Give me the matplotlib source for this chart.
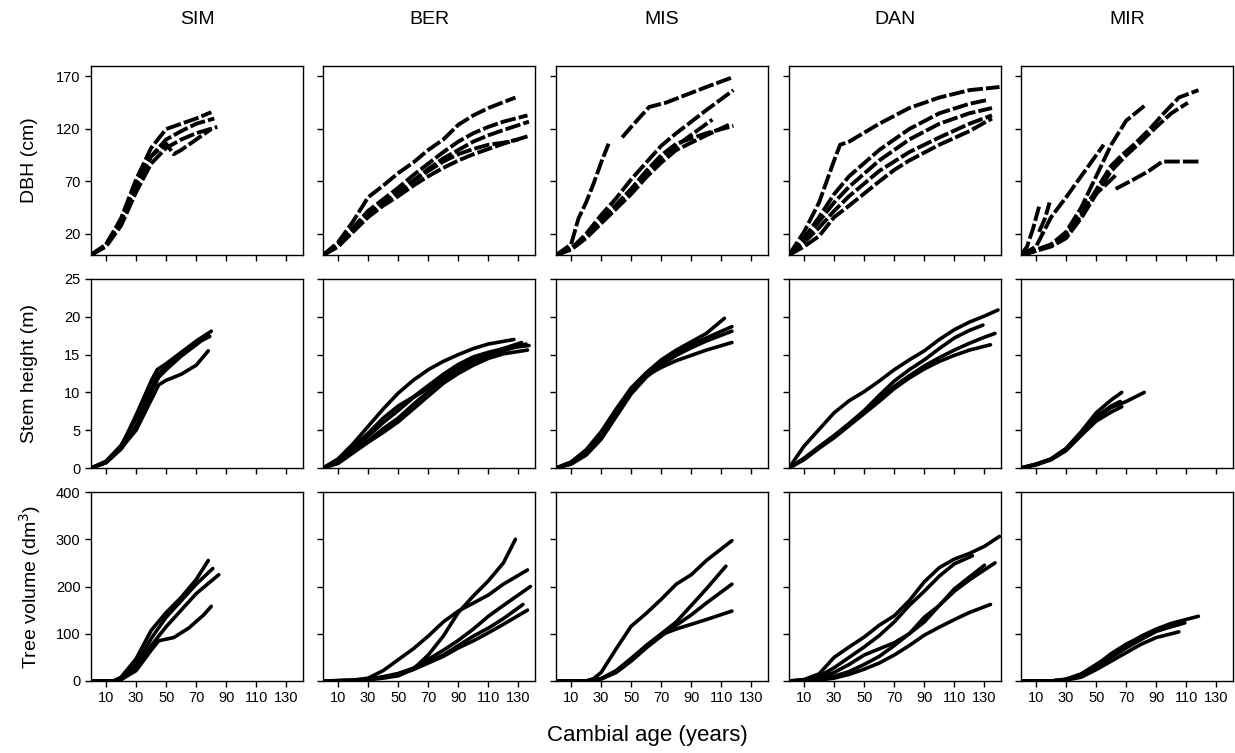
import matplotlib
matplotlib.use('Agg')
import matplotlib.pyplot as plt

plt.rcParams['font.family'] = ['Liberation Sans', 'DejaVu Sans']

sites = ['SIM', 'BER', 'MIS', 'DAN', 'MIR']
row_labels = ['DBH (cm)', 'Stem height (m)', 'Tree volume (dm$^3$)']
row_ylims = [(0, 180), (0, 25), (0, 400)]
row_yticks = [[20, 70, 120, 170], [0, 5, 10, 15, 20, 25], [0, 100, 200, 300, 400]]
age_ticks = [10, 30, 50, 70, 90, 110, 130]

# each tree: (cambial age, value)
sim_dbh = [
    ([0, 10, 20, 30, 40, 50, 60, 70, 80], [0, 10, 35, 72, 102, 120, 125, 130, 136]),
    ([0, 10, 20, 30, 40, 50, 60, 70, 82], [0, 9, 32, 66, 94, 110, 118, 125, 130]),
    ([0, 10, 20, 30, 40, 50, 60, 70, 84], [0, 8, 28, 60, 87, 102, 110, 116, 122]),
    ([0, 10, 20, 30, 40, 50, 55, 60, 70, 80], [0, 10, 33, 68, 94, 106, 96, 100, 110, 120]),
]
ber_dbh = [
    ([0, 10, 20, 30, 40, 50, 60, 70, 80, 90, 100, 110, 128], [0, 12, 32, 55, 66, 78, 88, 100, 110, 124, 133, 140, 150]),
    ([0, 10, 20, 30, 40, 50, 60, 70, 80, 90, 100, 110, 120, 136], [0, 9, 26, 42, 53, 64, 76, 87, 98, 108, 116, 122, 127, 133]),
    ([0, 10, 20, 30, 40, 50, 60, 70, 80, 90, 100, 110, 120, 137], [0, 8, 24, 39, 50, 60, 71, 82, 92, 100, 108, 114, 119, 127]),
    ([0, 10, 20, 30, 40, 50, 60, 70, 80, 90, 100, 110, 120, 136], [0, 8, 22, 36, 47, 56, 66, 75, 83, 90, 96, 101, 106, 113]),
    ([0, 10, 20, 30, 40, 50, 60, 70, 80, 90, 100, 110, 120, 130], [0, 9, 23, 38, 49, 59, 70, 80, 89, 96, 101, 105, 107, 110]),
]
mis_dbh = [
    ([0, 10, 15, 20, 25, 30, 35], [0, 10, 35, 50, 68, 88, 106]),
    ([44, 50, 62, 73, 82, 100, 117], [112, 122, 141, 145, 150, 160, 169]),
    ([0, 10, 20, 30, 40, 50, 60, 70, 80, 100, 118], [0, 6, 20, 38, 54, 72, 88, 104, 116, 138, 157]),
    ([0, 10, 20, 30, 40, 50, 60, 70, 80, 100, 118], [0, 6, 18, 34, 48, 63, 80, 95, 106, 116, 123]),
    ([0, 10, 20, 30, 40, 50, 60, 70, 80, 100, 115], [0, 5, 16, 30, 44, 58, 74, 88, 100, 114, 124]),
    ([0, 10, 20, 30, 40, 50, 60, 70, 80, 104], [0, 6, 17, 32, 46, 62, 78, 92, 104, 129]),
]
dan_dbh = [
    ([0, 10, 20, 30, 34, 40, 60, 80, 100, 120, 140], [0, 22, 50, 90, 105, 108, 125, 140, 150, 157, 160]),
    ([0, 10, 20, 30, 40, 60, 80, 100, 120, 133], [0, 16, 36, 58, 75, 100, 120, 135, 144, 148]),
    ([0, 10, 20, 30, 40, 60, 80, 100, 120, 135], [0, 14, 32, 50, 65, 90, 110, 125, 135, 140]),
    ([0, 10, 20, 30, 40, 60, 80, 100, 120, 135], [0, 12, 26, 42, 56, 80, 98, 112, 125, 133]),
    ([0, 10, 20, 30, 40, 60, 70, 80, 100, 120, 135], [0, 8, 18, 36, 47, 70, 81, 90, 105, 118, 130]),
]
mir_dbh = [
    ([0, 4, 8, 12], [0, 8, 25, 46]),
    ([12, 16, 19], [22, 35, 50]),
    ([0, 10, 20, 30, 40, 50, 60, 70, 82], [0, 5, 10, 22, 45, 75, 105, 128, 142]),
    ([0, 10, 20, 30, 40, 50, 60, 67, 75, 85, 95, 105, 118], [0, 4, 9, 18, 38, 62, 85, 95, 105, 119, 135, 150, 157]),
    ([0, 10, 20, 30, 40, 50, 60, 70, 80, 90, 100, 111], [0, 4, 8, 16, 35, 58, 80, 95, 108, 122, 135, 145]),
    ([0, 10, 20, 30, 40, 50, 55], [0, 8, 36, 55, 75, 95, 105]),
    ([0, 10, 20, 30, 40, 45, 55, 63], [0, 4, 10, 20, 38, 52, 65, 76]),
    ([63, 75, 85, 94, 118], [63, 72, 80, 89, 89]),
]

sim_h = [
    ([0, 10, 20, 30, 40, 44, 50, 60, 70, 80], [0, 0.8, 2.8, 7, 11.5, 13, 13.8, 15.3, 16.8, 18.1]),
    ([0, 10, 20, 30, 40, 45, 50, 60, 70, 78], [0, 0.7, 2.5, 5.5, 10, 12, 13, 14.8, 16.3, 17.6]),
    ([0, 10, 20, 30, 40, 45, 50, 60, 70, 78], [0, 0.7, 2.6, 5, 9, 11, 11.6, 12.4, 13.6, 15.5]),
    ([0, 10, 20, 30, 40, 45, 50, 60, 70, 79], [0, 0.9, 3, 6.5, 10.5, 12.5, 13.3, 15, 16.5, 17.4]),
]
ber_h = [
    ([0, 10, 20, 30, 40, 50, 60, 70, 80, 90, 100, 110, 127], [0, 1.2, 3.2, 5.5, 7.8, 9.9, 11.6, 13, 14.1, 15, 15.8, 16.4, 17]),
    ([0, 10, 20, 30, 40, 50, 60, 70, 80, 90, 100, 110, 120, 132], [0, 0.8, 2.5, 4.2, 6, 7.6, 9.3, 10.6, 12, 13.2, 14.3, 15.1, 15.8, 16.6]),
    ([0, 10, 20, 30, 40, 50, 60, 70, 80, 90, 100, 110, 120, 135], [0, 0.7, 2.2, 3.6, 5.2, 6.6, 8.4, 10.1, 11.7, 13, 14.1, 14.9, 15.5, 16.4]),
    ([0, 10, 20, 30, 40, 50, 60, 70, 80, 90, 100, 110, 120, 137], [0, 1, 2.8, 4.6, 6.6, 8.2, 9.4, 10.9, 12.4, 13.7, 14.7, 15.3, 15.8, 16.2]),
    ([0, 10, 20, 30, 40, 50, 60, 70, 80, 90, 100, 110, 120, 136], [0, 0.6, 2, 3.4, 4.7, 6.1, 7.8, 9.5, 11.2, 12.5, 13.6, 14.5, 15.1, 15.6]),
]
mis_h = [
    ([0, 10, 20, 30, 40, 50, 60, 70, 80, 90, 100, 112], [0, 0.8, 2.4, 4.8, 7.8, 10.6, 12.6, 14.3, 15.6, 16.7, 17.8, 19.8]),
    ([0, 10, 20, 30, 40, 50, 60, 70, 80, 90, 100, 117], [0, 0.6, 2, 4.2, 7.2, 10.2, 12.3, 14, 15.3, 16.3, 17.2, 18.7]),
    ([0, 10, 20, 30, 40, 50, 60, 70, 80, 90, 100, 117], [0, 0.5, 1.7, 3.8, 6.8, 9.8, 12, 13.6, 14.9, 15.9, 16.8, 18.1]),
    ([0, 10, 20, 30, 40, 50, 60, 70, 80, 90, 100, 117], [0, 0.7, 2.2, 4.5, 7.5, 10.4, 12.2, 13.3, 14.2, 14.9, 15.6, 16.6]),
]
dan_h = [
    ([0, 10, 20, 30, 40, 50, 60, 70, 80, 90, 100, 110, 120, 130, 139], [0, 2.9, 5.1, 7.3, 8.9, 10.1, 11.5, 13, 14.3, 15.5, 17, 18.3, 19.3, 20.1, 20.9]),
    ([0, 10, 20, 30, 40, 50, 60, 70, 80, 90, 100, 110, 120, 129], [0, 1.2, 2.8, 4.3, 5.9, 7.6, 9.6, 11.5, 13, 14.3, 15.8, 17.2, 18.2, 18.9]),
    ([0, 10, 20, 30, 40, 50, 60, 70, 80, 90, 100, 110, 120, 130, 137], [0, 1.3, 2.8, 4.2, 5.8, 7.4, 9.1, 10.8, 12.2, 13.5, 14.6, 15.6, 16.5, 17.3, 17.8]),
    ([0, 10, 20, 30, 40, 50, 60, 70, 80, 90, 100, 110, 120, 134], [0, 1.1, 2.6, 4, 5.6, 7.2, 8.8, 10.5, 11.9, 13.1, 14.1, 14.9, 15.6, 16.3]),
]
mir_h = [
    ([0, 10, 20, 30, 40, 50, 60, 67], [0, 0.5, 1.2, 2.6, 4.8, 7.3, 9, 10]),
    ([0, 10, 20, 30, 40, 50, 60, 70, 82], [0, 0.5, 1.1, 2.4, 4.4, 6.6, 8, 8.8, 10]),
    ([0, 10, 20, 30, 40, 50, 60, 67], [0, 0.4, 1.1, 2.3, 4.3, 6.2, 7.4, 8.1]),
    ([0, 10, 20, 30, 40, 50, 60, 66], [0, 0.5, 1.2, 2.5, 4.6, 6.8, 8.2, 8.8]),
]

sim_vol = [
    ([0, 15, 20, 30, 40, 50, 60, 70, 78], [0, 0, 8, 47, 107, 145, 177, 215, 255]),
    ([0, 15, 20, 30, 40, 50, 60, 70, 81], [0, 0, 5, 35, 90, 135, 170, 205, 238]),
    ([0, 15, 20, 30, 40, 50, 60, 70, 85], [0, 0, 3, 25, 75, 115, 150, 185, 225]),
    ([0, 15, 20, 30, 40, 45, 55, 65, 75, 80], [0, 0, 3, 22, 65, 85, 92, 112, 140, 158]),
]
ber_vol = [
    ([0, 20, 30, 40, 50, 60, 70, 80, 90, 100, 110, 120, 128], [0, 1, 3, 6, 11, 25, 55, 95, 145, 180, 212, 250, 300]),
    ([0, 20, 30, 40, 50, 60, 70, 80, 90, 100, 110, 120, 136], [0, 2, 6, 22, 45, 68, 95, 125, 148, 165, 182, 205, 235]),
    ([0, 20, 30, 40, 50, 60, 70, 80, 90, 100, 110, 120, 138], [0, 1, 4, 9, 16, 27, 46, 65, 86, 110, 137, 160, 200]),
    ([0, 20, 30, 40, 50, 60, 70, 80, 90, 100, 110, 120, 133], [0, 1, 3, 8, 14, 25, 40, 55, 75, 95, 112, 132, 162]),
    ([0, 20, 30, 40, 50, 60, 70, 80, 90, 100, 110, 120, 136], [0, 1, 3, 8, 14, 24, 38, 52, 70, 85, 102, 120, 150]),
]
mis_vol = [
    ([0, 20, 25, 30, 40, 50, 60, 70, 80, 90, 100, 117], [0, 0, 5, 18, 68, 116, 143, 173, 205, 225, 255, 297]),
    ([0, 20, 30, 40, 50, 60, 70, 80, 90, 100, 113], [0, 0, 5, 20, 45, 75, 100, 125, 160, 195, 243]),
    ([0, 20, 30, 40, 50, 60, 70, 80, 90, 100, 117], [0, 0, 4, 18, 42, 70, 95, 118, 140, 165, 205]),
    ([0, 20, 30, 40, 50, 60, 70, 80, 90, 100, 117], [0, 0, 5, 22, 48, 75, 98, 110, 120, 130, 148]),
]
dan_vol = [
    ([0, 10, 20, 30, 40, 50, 60, 70, 80, 90, 100, 110, 120, 130, 140], [0, 3, 15, 50, 72, 93, 118, 138, 170, 210, 240, 258, 270, 285, 306]),
    ([0, 10, 20, 30, 40, 50, 60, 70, 80, 90, 100, 110, 122], [0, 2, 10, 28, 50, 72, 96, 125, 160, 190, 222, 248, 265]),
    ([0, 10, 20, 30, 40, 50, 60, 70, 80, 90, 100, 110, 120, 130], [0, 1, 6, 18, 35, 55, 68, 81, 100, 125, 160, 195, 220, 245]),
    ([0, 10, 20, 30, 40, 50, 60, 70, 80, 90, 100, 110, 120, 137], [0, 1, 4, 10, 20, 35, 52, 75, 100, 135, 160, 190, 214, 250]),
    ([0, 10, 20, 30, 40, 50, 60, 70, 80, 90, 100, 110, 120, 134], [0, 0, 2, 6, 14, 25, 38, 55, 75, 97, 114, 130, 145, 162]),
]
mir_vol = [
    ([0, 20, 30, 40, 50, 60, 70, 80, 90, 100, 118], [0, 0, 4, 15, 35, 55, 75, 95, 110, 122, 137]),
    ([0, 20, 30, 40, 50, 60, 70, 80, 90, 100, 109], [0, 0, 3, 12, 30, 50, 70, 88, 105, 115, 123]),
    ([0, 20, 30, 40, 50, 60, 70, 80, 90, 105], [0, 0, 2, 8, 24, 42, 60, 78, 92, 104]),
    ([0, 20, 30, 40, 50, 60, 70, 80, 90, 105], [0, 0, 3, 14, 33, 58, 78, 94, 108, 120]),
]

grid = [
    [sim_dbh, ber_dbh, mis_dbh, dan_dbh, mir_dbh],
    [sim_h, ber_h, mis_h, dan_h, mir_h],
    [sim_vol, ber_vol, mis_vol, dan_vol, mir_vol],
]

W, H = 1235, 753
fig = plt.figure(figsize=(W / 100, H / 100), dpi=100)

col_left = [91, 323, 556, 789, 1021]
row_top = [66, 279, 492]
pw, ph = 212, 189

for r in range(3):
    for c in range(5):
        ax = fig.add_axes([col_left[c] / W, 1 - (row_top[r] + ph) / H, pw / W, ph / H])
        for ages, vals in grid[r][c]:
            if r == 0:
                ax.plot(ages, vals, color='black', lw=2.8, ls=(0, (4, 0.8)),
                        solid_capstyle='butt', dash_capstyle='butt')
            else:
                ax.plot(ages, vals, color='black', lw=2.6, solid_capstyle='round')
        ax.set_xlim(0, 141)
        ax.set_ylim(*row_ylims[r])
        ax.set_xticks(age_ticks)
        ax.set_yticks(row_yticks[r])
        ax.tick_params(direction='out', length=4, width=1, labelsize=10.5, color='black')
        for sp in ax.spines.values():
            sp.set_linewidth(1)
        if r < 2:
            ax.set_xticklabels([])
        if c > 0:
            ax.set_yticklabels([])

for c in range(5):
    fig.text((col_left[c] + pw / 2) / W, 1 - 19 / H, sites[c], ha='center', va='center', fontsize=14)

for r in range(3):
    yc = 1 - (row_top[r] + ph / 2) / H
    fig.text(30 / W, yc, row_labels[r], rotation=90, ha='center', va='center', fontsize=14)

fig.text(647 / W, 1 - 735 / H, 'Cambial age (years)', ha='center', va='center', fontsize=16)

fig.savefig('out.png', dpi=100)
